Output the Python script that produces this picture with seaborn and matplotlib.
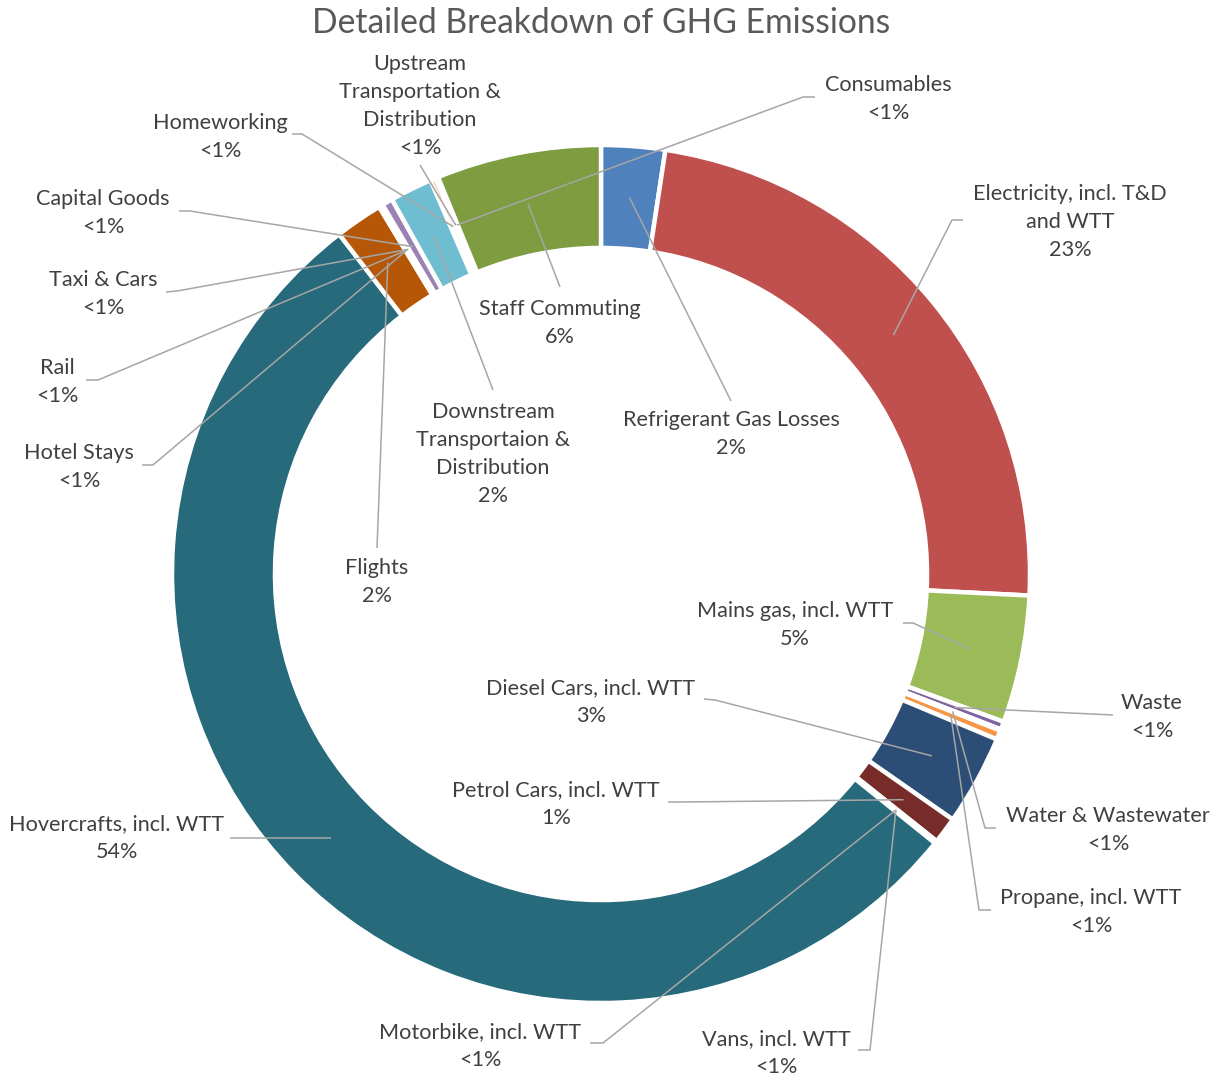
import numpy as np
import matplotlib
matplotlib.use("Agg")
import matplotlib.pyplot as plt
import seaborn as sns

# Emission sources in clockwise order, starting at 12 o'clock
sources = [
    "Refrigerant Gas Losses", "Electricity, incl. T&D\nand WTT", "Mains gas, incl. WTT",
    "Waste", "Water & Wastewater", "Propane, incl. WTT", "Diesel Cars, incl. WTT",
    "Petrol Cars, incl. WTT", "Vans, incl. WTT", "Motorbike, incl. WTT",
    "Hovercrafts, incl. WTT", "Flights", "Hotel Stays", "Rail", "Taxi & Cars",
    "Capital Goods", "Downstream\nTransportaion &\nDistribution", "Homeworking",
    "Upstream\nTransportation &\nDistribution", "Consumables", "Staff Commuting",
]
# Share of total emissions, %
shares = [
    2.4, 23.4, 4.8,
    0.30, 0.05, 0.35, 3.4,
    1.0, 0.05, 0.05,
    53.75, 1.8, 0.05, 0.05, 0.05,
    0.40, 1.6, 0.20,
    0.05, 0.05, 6.2,
]
colors = [
    "#4F81BD", "#C0504D", "#9BBB59", "#8064A2", "#4BACC6", "#F79646", "#2C4D75",
    "#772C2A", "#5F7530", "#4D3B62", "#276A7C", "#B65708", "#729ACA", "#CD7371",
    "#AFC97A", "#9983B5", "#6FBDD1", "#F9AB6B", "#3A5F8B", "#9A3C3A", "#7E9C40",
]

sns.set_theme(style="white")
plt.rcParams["font.family"] = ["Lato", "DejaVu Sans"]

W, H = 1228, 1077
CX, CY, R = 601, 574, 429  # ring centre and outer radius in pixels


def px(x, y):
    return ((x - CX) / R, (CY - y) / R)


fig = plt.figure(figsize=(W / 100, H / 100), dpi=100)
ax = fig.add_axes([0, 0, 1, 1])

wedges, _ = ax.pie(
    shares, colors=colors, startangle=90, counterclock=False, radius=1.0,
    wedgeprops=dict(width=0.24, edgecolor="white", linewidth=3.2),
)
ax.set_xlim(-CX / R, (W - CX) / R)
ax.set_ylim(-(H - CY) / R, CY / R)
ax.set_aspect("equal")
ax.axis("off")

# label centre (px) and leader path from the label towards the ring (px)
layout = {
    0: ((731, 434), [(731, 401)]),
    1: ((1070, 222), [(963, 220), (952, 220)]),
    2: ((795, 625), [(903, 623), (913, 623)]),
    3: ((1152, 717), [(1113, 715)]),
    4: ((1108, 830), [(996, 828), (985, 828)]),
    5: ((1091, 912), [(991, 910), (979, 910)]),
    6: ((591, 702), [(704, 699), (715, 700)]),
    7: ((556, 804), [(668, 802), (680, 802)]),
    8: ((776, 1053), [(858, 1050), (870, 1050)]),
    9: ((480, 1046), [(590, 1043), (603, 1043)]),
    10: ((117, 838), [(230, 838), (240, 838)]),
    11: ((377, 582), [(377, 548)]),
    12: ((79, 467), [(142, 465), (153, 465)]),
    13: ((57, 382), [(86, 380), (98, 380)]),
    14: ((103, 294), [(166, 292), (177, 291)]),
    15: ((103, 213), [(179, 211), (190, 211)]),
    16: ((493, 454), [(493, 390)]),
    17: ((220, 137), [(292, 134), (302, 134)]),
    18: ((420, 106), [(420, 165)]),
    19: ((888, 99), [(815, 97), (803, 97)]),
    20: ((560, 323), [(560, 287)]),
}

total = sum(shares)
mid_r = 1.0 - 0.24 / 2
for i, (w, name, v) in enumerate(zip(wedges, sources, shares)):
    pct = 100 * v / total
    pct_txt = "<1%" if pct < 1 else f"{round(pct):.0f}%"
    (lx, ly), path = layout[i]
    ang = np.deg2rad((w.theta1 + w.theta2) / 2)
    anchor = (mid_r * np.cos(ang), mid_r * np.sin(ang))
    pts = [px(*p) for p in path] + [anchor]
    xs, ys = zip(*pts)
    ax.plot(xs, ys, color="#A6A6A6", lw=1.1, solid_capstyle="butt", zorder=3)
    tx, ty = px(lx, ly)
    ax.text(tx, ty, f"{name}\n{pct_txt}", ha="center", va="center",
            fontsize=15.6, color="#404040", linespacing=1.5, zorder=4)

tx, ty = px(601, 23)
ax.text(tx, ty, "Detailed Breakdown of GHG Emissions", ha="center", va="center",
        fontsize=24.2, color="#595959")

fig.savefig("out.png", dpi=100, facecolor="white")
